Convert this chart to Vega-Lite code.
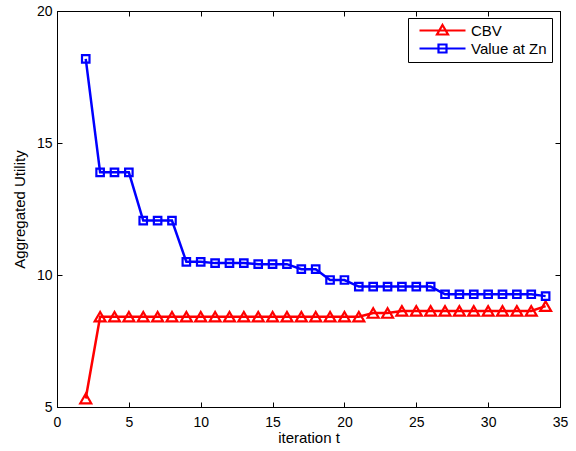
{
  "$schema": "https://vega.github.io/schema/vega-lite/v6.json",
  "autosize": {"type": "none"},
  "width": 503,
  "height": 396,
  "padding": {"left": 57, "top": 11, "right": 16, "bottom": 44},
  "background": "white",
  "config": {
    "font": "Liberation Sans",
    "view": {"stroke": "black", "strokeWidth": 1},
    "axis": {
      "grid": false,
      "domainColor": "black",
      "tickColor": "black",
      "labelColor": "black",
      "titleColor": "black",
      "labelFontSize": 14,
      "titleFontSize": 15,
      "titleFontWeight": "normal",
      "tickSize": -5
    }
  },
  "data": {
    "values": [
      {"t": 2, "series": "CBV", "value": 5.32},
      {"t": 3, "series": "CBV", "value": 8.42},
      {"t": 4, "series": "CBV", "value": 8.42},
      {"t": 5, "series": "CBV", "value": 8.42},
      {"t": 6, "series": "CBV", "value": 8.42},
      {"t": 7, "series": "CBV", "value": 8.42},
      {"t": 8, "series": "CBV", "value": 8.42},
      {"t": 9, "series": "CBV", "value": 8.42},
      {"t": 10, "series": "CBV", "value": 8.42},
      {"t": 11, "series": "CBV", "value": 8.42},
      {"t": 12, "series": "CBV", "value": 8.42},
      {"t": 13, "series": "CBV", "value": 8.42},
      {"t": 14, "series": "CBV", "value": 8.42},
      {"t": 15, "series": "CBV", "value": 8.42},
      {"t": 16, "series": "CBV", "value": 8.42},
      {"t": 17, "series": "CBV", "value": 8.42},
      {"t": 18, "series": "CBV", "value": 8.42},
      {"t": 19, "series": "CBV", "value": 8.42},
      {"t": 20, "series": "CBV", "value": 8.42},
      {"t": 21, "series": "CBV", "value": 8.42},
      {"t": 22, "series": "CBV", "value": 8.56},
      {"t": 23, "series": "CBV", "value": 8.56},
      {"t": 24, "series": "CBV", "value": 8.64},
      {"t": 25, "series": "CBV", "value": 8.64},
      {"t": 26, "series": "CBV", "value": 8.64},
      {"t": 27, "series": "CBV", "value": 8.64},
      {"t": 28, "series": "CBV", "value": 8.64},
      {"t": 29, "series": "CBV", "value": 8.64},
      {"t": 30, "series": "CBV", "value": 8.64},
      {"t": 31, "series": "CBV", "value": 8.64},
      {"t": 32, "series": "CBV", "value": 8.64},
      {"t": 33, "series": "CBV", "value": 8.64},
      {"t": 34, "series": "CBV", "value": 8.82},
      {"t": 2, "series": "Value at Zn", "value": 18.19},
      {"t": 3, "series": "Value at Zn", "value": 13.89},
      {"t": 4, "series": "Value at Zn", "value": 13.89},
      {"t": 5, "series": "Value at Zn", "value": 13.89},
      {"t": 6, "series": "Value at Zn", "value": 12.06},
      {"t": 7, "series": "Value at Zn", "value": 12.06},
      {"t": 8, "series": "Value at Zn", "value": 12.06},
      {"t": 9, "series": "Value at Zn", "value": 10.5},
      {"t": 10, "series": "Value at Zn", "value": 10.5},
      {"t": 11, "series": "Value at Zn", "value": 10.45},
      {"t": 12, "series": "Value at Zn", "value": 10.45},
      {"t": 13, "series": "Value at Zn", "value": 10.45},
      {"t": 14, "series": "Value at Zn", "value": 10.41},
      {"t": 15, "series": "Value at Zn", "value": 10.41},
      {"t": 16, "series": "Value at Zn", "value": 10.41},
      {"t": 17, "series": "Value at Zn", "value": 10.22},
      {"t": 18, "series": "Value at Zn", "value": 10.22},
      {"t": 19, "series": "Value at Zn", "value": 9.81},
      {"t": 20, "series": "Value at Zn", "value": 9.81},
      {"t": 21, "series": "Value at Zn", "value": 9.56},
      {"t": 22, "series": "Value at Zn", "value": 9.56},
      {"t": 23, "series": "Value at Zn", "value": 9.56},
      {"t": 24, "series": "Value at Zn", "value": 9.56},
      {"t": 25, "series": "Value at Zn", "value": 9.56},
      {"t": 26, "series": "Value at Zn", "value": 9.56},
      {"t": 27, "series": "Value at Zn", "value": 9.27},
      {"t": 28, "series": "Value at Zn", "value": 9.27},
      {"t": 29, "series": "Value at Zn", "value": 9.27},
      {"t": 30, "series": "Value at Zn", "value": 9.27},
      {"t": 31, "series": "Value at Zn", "value": 9.27},
      {"t": 32, "series": "Value at Zn", "value": 9.27},
      {"t": 33, "series": "Value at Zn", "value": 9.27},
      {"t": 34, "series": "Value at Zn", "value": 9.2}
    ]
  },
  "layer": [
    {
      "mark": {"type": "line", "strokeWidth": 2.5},
      "encoding": {
        "x": {"field": "t", "type": "quantitative", "scale": {"domain": [0, 35], "nice": false},
              "axis": {"values": [0, 5, 10, 15, 20, 25, 30, 35], "title": "iteration t", "labelPadding": 13, "titlePadding": 1, "labelFlush": false}},
        "y": {"field": "value", "type": "quantitative", "scale": {"domain": [5, 20], "nice": false, "zero": false},
              "axis": {"values": [5, 10, 15, 20], "title": "Aggregated Utility", "labelPadding": 10, "titlePadding": 9, "labelFlush": false}},
        "color": {"field": "series", "type": "nominal",
                  "scale": {"domain": ["CBV", "Value at Zn"], "range": ["#ff0000", "#0000ff"]},
                  "legend": {
                    "title": null, "orient": "none", "legendX": 351, "legendY": 7,
                    "strokeColor": "black", "fillColor": "white", "padding": 5,
                    "symbolSize": 100, "symbolStrokeWidth": 2, "symbolOffset": 22,
                    "labelOffset": 21, "labelFontSize": 15, "labelColor": "black",
                    "rowPadding": 1,
                    "encode": {"symbols": {"update": {
                      "shape": {"signal": "datum.value === 'CBV' ? 'M-4.6,0H4.6M0,-1.1L1.1,0.8L-1.1,0.8Z' : 'M-4.6,0H4.6M-0.8,-0.8H0.8V0.8H-0.8Z'"},
                      "fill": {"value": "transparent"},
                      "strokeWidth": {"value": 2.2}
                    }}}
                  }}
      }
    },
    {
      "transform": [{"filter": "datum.series === 'CBV'"}],
      "mark": {"type": "point", "shape": "triangle-up", "size": 120, "filled": false, "strokeWidth": 2.2, "opacity": 1, "color": "#ff0000"},
      "encoding": {
        "x": {"field": "t", "type": "quantitative", "axis": null},
        "y": {"field": "value", "type": "quantitative", "axis": null}
      }
    },
    {
      "transform": [{"filter": "datum.series === 'Value at Zn'"}],
      "mark": {"type": "point", "shape": "square", "size": 56, "filled": false, "strokeWidth": 2.2, "opacity": 1, "color": "#0000ff"},
      "encoding": {
        "x": {"field": "t", "type": "quantitative",
              "axis": {"orient": "top", "values": [0, 5, 10, 15, 20, 25, 30, 35], "labels": false, "title": null}},
        "y": {"field": "value", "type": "quantitative",
              "axis": {"orient": "right", "values": [5, 10, 15, 20], "labels": false, "title": null}}
      }
    }
  ],
  "resolve": {"axis": {"x": "independent", "y": "independent"}}
}
